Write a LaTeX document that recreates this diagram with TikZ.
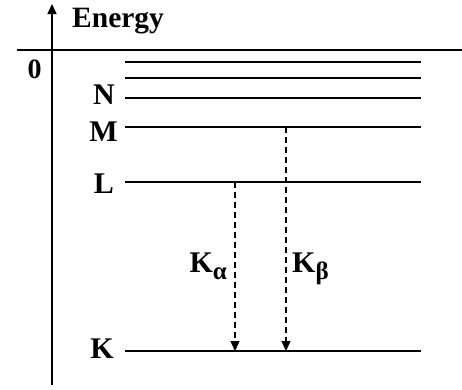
\documentclass[tikz,border=0pt]{standalone}
\usepackage{fontspec}
\setmainfont{Liberation Serif}
\usetikzlibrary{arrows.meta}
\newcommand{\mysub}[1]{\raisebox{-7pt}{\fontsize{25}{25}\selectfont\bfseries #1}}
\begin{document}
\begin{tikzpicture}[x=1pt,y=-1pt,
  level/.style={line width=1.6pt},
  lab/.style={font=\fontsize{30}{32}\selectfont\bfseries, inner sep=0pt},
  trans/.style={line width=1.3pt, dash pattern=on 6pt off 4pt, -{Triangle[length=10pt,width=9pt]}}]
\useasboundingbox (0,0) rectangle (462,389);
% axis
\coordinate (ab) at (52,385);
\coordinate (at) at (52,4);
\draw[line width=1.6pt,-{Triangle[length=10pt,width=9pt]}] (ab) -- (at);
\node[lab, font=\fontsize{29.5}{31}\selectfont\bfseries, anchor=base west] (en) at (72,27) {Energy};
% zero line
\coordinate (z1) at (17,50);
\coordinate (z2) at (462,50);
\draw[line width=1.6pt] (z1) -- (z2);
\node[lab, font=\fontsize{28}{30}\selectfont\bfseries, anchor=base] (zero) at (34.5,78) {0};
% levels
\foreach \n/\y in {a/62,b/78,N/98,M/127,L/182,K/351}{
  \coordinate (\n1) at (125,\y);
  \coordinate (\n2) at (421,\y);
  \draw[level] (\n1) -- (\n2);
}
\node[lab, anchor=base east] (Nl) at (115,104) {N};
\node[lab, anchor=base east] (Ml) at (118,141) {M};
\node[lab, anchor=base east] (Ll) at (114,193) {L};
\node[lab, anchor=base east] (Kl) at (114,358) {K};
% transitions
\coordinate (ka1) at (235,182);
\coordinate (ka2) at (235,351);
\coordinate (kb1) at (286,127);
\coordinate (kb2) at (286,351);
\draw[trans] (ka1) -- (ka2);
\draw[trans] (kb1) -- (kb2);
\node[lab, anchor=base east] (kal) at (227,272) {K\mysub{α}};
\node[lab, anchor=base west] (kbl) at (292,272) {K\mysub{β}};
\end{tikzpicture}
\end{document}
